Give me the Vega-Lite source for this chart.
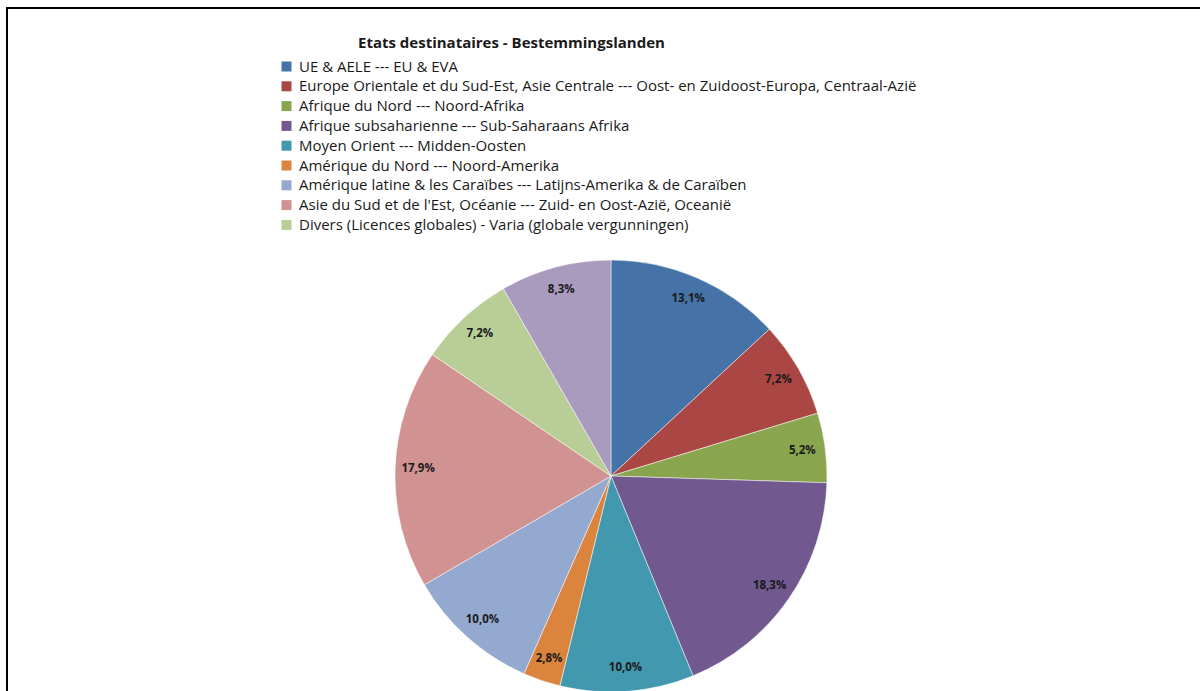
{
  "$schema": "https://vega.github.io/schema/vega-lite/v6.json",
  "width": 1208,
  "height": 936,
  "autosize": {"type": "none"},
  "padding": {"left": 7, "top": 8, "right": 0, "bottom": 0},
  "background": "white",
  "view": {"stroke": "#000000", "strokeWidth": 2, "cornerRadius": 0},
  "config": {
    "view": {"stroke": "#000000", "strokeWidth": 2},
    "locale": {"number": {"decimal": ",", "thousands": ".", "grouping": [3], "currency": ["", " €"]}}
  },
  "title": {
    "text": "Etats destinataires - Bestemmingslanden",
    "anchor": "start",
    "frame": "group",
    "dx": 351,
    "offset": -43,
    "font": "Open Sans",
    "fontSize": 15,
    "fontWeight": "bold",
    "color": "#1a1a1a"
  },
  "data": {
    "values": [
      {"i": 1, "region": "UE & AELE --- EU & EVA", "share": 0.131},
      {"i": 2, "region": "Europe Orientale et du Sud-Est, Asie Centrale --- Oost- en Zuidoost-Europa, Centraal-Azië", "share": 0.072},
      {"i": 3, "region": "Afrique du Nord --- Noord-Afrika", "share": 0.052},
      {"i": 4, "region": "Afrique subsaharienne --- Sub-Saharaans Afrika", "share": 0.183},
      {"i": 5, "region": "Moyen Orient --- Midden-Oosten", "share": 0.100},
      {"i": 6, "region": "Amérique du Nord --- Noord-Amerika", "share": 0.028},
      {"i": 7, "region": "Amérique latine & les Caraïbes --- Latijns-Amerika & de Caraïben", "share": 0.100},
      {"i": 8, "region": "Asie du Sud et de l'Est, Océanie --- Zuid- en Oost-Azië, Oceanië", "share": 0.179},
      {"i": 9, "region": "Divers (Licences globales) - Varia (globale vergunningen)", "share": 0.072},
      {"i": 10, "region": "Autres", "share": 0.083}
    ]
  },
  "encoding": {
    "theta": {"field": "share", "type": "quantitative", "stack": true},
    "order": {"field": "i", "type": "quantitative"}
  },
  "layer": [
    {
      "mark": {"type": "arc", "outerRadius": 216, "stroke": "#ffffff", "strokeWidth": 0.5},
      "encoding": {
        "color": {
          "field": "region",
          "type": "nominal",
          "scale": {
            "domain": [
              "UE & AELE --- EU & EVA",
              "Europe Orientale et du Sud-Est, Asie Centrale --- Oost- en Zuidoost-Europa, Centraal-Azië",
              "Afrique du Nord --- Noord-Afrika",
              "Afrique subsaharienne --- Sub-Saharaans Afrika",
              "Moyen Orient --- Midden-Oosten",
              "Amérique du Nord --- Noord-Amerika",
              "Amérique latine & les Caraïbes --- Latijns-Amerika & de Caraïben",
              "Asie du Sud et de l'Est, Océanie --- Zuid- en Oost-Azië, Oceanië",
              "Divers (Licences globales) - Varia (globale vergunningen)",
              "Autres"
            ],
            "range": ["#4572A7", "#AA4643", "#89A54E", "#71588F", "#4198AF", "#DB843D", "#93A9CF", "#D19392", "#B9CD96", "#A99BBD"]
          },
          "legend": {
            "title": null,
            "orient": "none",
            "legendX": 272,
            "legendY": 51,
            "values": [
              "UE & AELE --- EU & EVA",
              "Europe Orientale et du Sud-Est, Asie Centrale --- Oost- en Zuidoost-Europa, Centraal-Azië",
              "Afrique du Nord --- Noord-Afrika",
              "Afrique subsaharienne --- Sub-Saharaans Afrika",
              "Moyen Orient --- Midden-Oosten",
              "Amérique du Nord --- Noord-Amerika",
              "Amérique latine & les Caraïbes --- Latijns-Amerika & de Caraïben",
              "Asie du Sud et de l'Est, Océanie --- Zuid- en Oost-Azië, Oceanië",
              "Divers (Licences globales) - Varia (globale vergunningen)"
            ],
            "symbolType": "square",
            "symbolSize": 100,
            "symbolStrokeWidth": 0,
            "labelFont": "Open Sans",
            "labelFontSize": 15,
            "labelColor": "#1a1a1a",
            "labelLimit": 0,
            "labelOffset": 5,
            "rowPadding": 3.8
          }
        }
      }
    },
    {
      "mark": {"type": "text", "radius": 193, "font": "Open Sans", "fontWeight": "bold", "fontSize": 11.5, "color": "#1a1a1a"},
      "encoding": {
        "text": {"field": "share", "type": "quantitative", "format": ".1%"}
      }
    }
  ]
}
